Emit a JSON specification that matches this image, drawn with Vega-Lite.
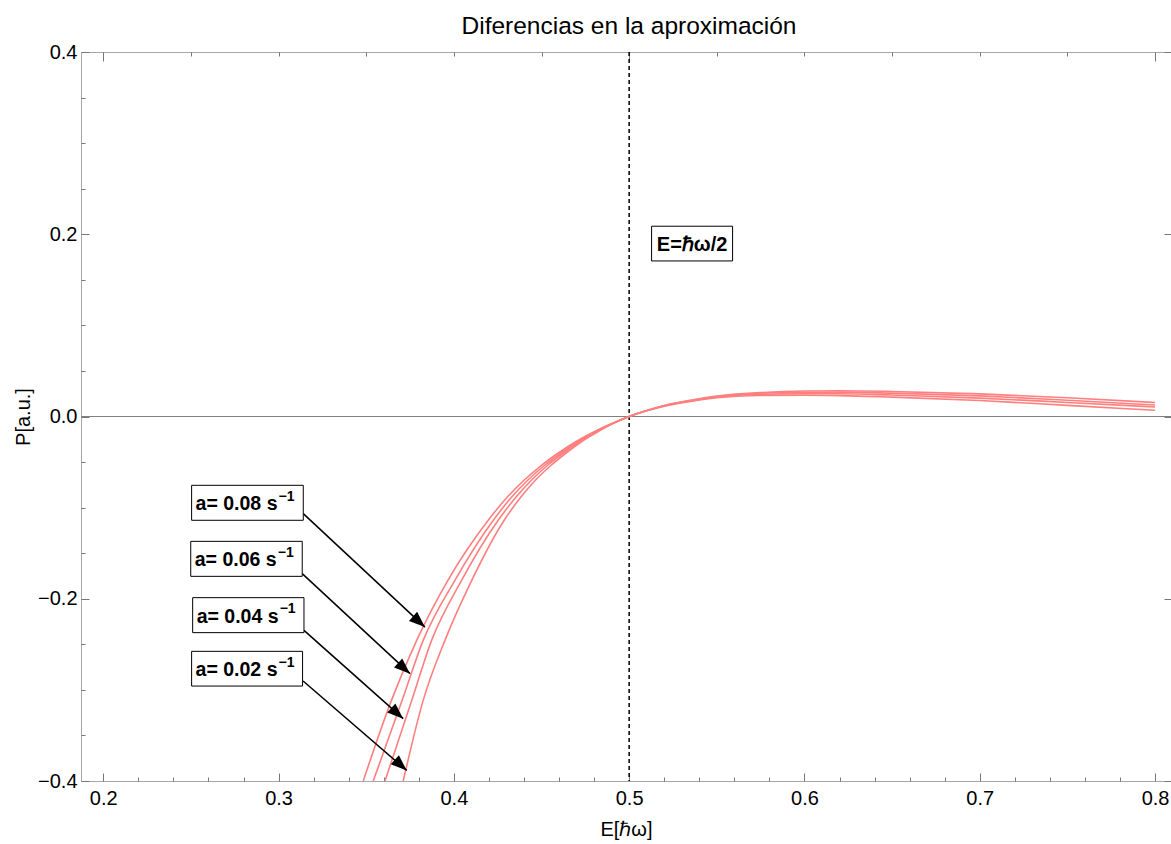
{
  "$schema": "https://vega.github.io/schema/vega-lite/v6.json",
  "width": 1090,
  "height": 729,
  "autosize": {"type": "none"},
  "padding": {"left": 81, "top": 52, "right": 0, "bottom": 63},
  "background": "white",
  "config": {
    "view": {"stroke": "#a6a6a6", "strokeWidth": 1},
    "font": "Liberation Sans",
    "axis": {"grid": false, "domain": false, "tickColor": "#777777", "labelColor": "black", "titleColor": "black", "labelFont": "Liberation Sans", "titleFont": "Liberation Sans", "labelFontSize": 20, "titleFontSize": 20, "titleFontWeight": "normal"}
  },
  "title": {"text": "Diferencias en la aproximación", "fontSize": 24.5, "fontWeight": "normal", "font": "Liberation Sans", "color": "black", "anchor": "middle", "offset": 3, "dx": 3},
  "datasets": {
    "curves": [
      {"a": "0.08", "E": 0.3483, "P": -0.4}, {"a": "0.08", "E": 0.3644, "P": -0.3115}, {"a": "0.08", "E": 0.3788, "P": -0.2457}, {"a": "0.08", "E": 0.3966, "P": -0.1798}, {"a": "0.08", "E": 0.4196, "P": -0.1139}, {"a": "0.08", "E": 0.43, "P": -0.0895}, {"a": "0.08", "E": 0.44, "P": -0.07}, {"a": "0.08", "E": 0.45, "P": -0.0535}, {"a": "0.08", "E": 0.46, "P": -0.0395}, {"a": "0.08", "E": 0.47, "P": -0.0272}, {"a": "0.08", "E": 0.48, "P": -0.0168}, {"a": "0.08", "E": 0.49, "P": -0.0078}, {"a": "0.08", "E": 0.5, "P": 0}, {"a": "0.08", "E": 0.51, "P": 0.0066}, {"a": "0.08", "E": 0.52, "P": 0.012}, {"a": "0.08", "E": 0.535, "P": 0.0178}, {"a": "0.08", "E": 0.55, "P": 0.0224}, {"a": "0.08", "E": 0.575, "P": 0.0262}, {"a": "0.08", "E": 0.6, "P": 0.028}, {"a": "0.08", "E": 0.62, "P": 0.0283}, {"a": "0.08", "E": 0.65, "P": 0.0275}, {"a": "0.08", "E": 0.7, "P": 0.0248}, {"a": "0.08", "E": 0.75, "P": 0.0205}, {"a": "0.08", "E": 0.8, "P": 0.0153},
      {"a": "0.06", "E": 0.354, "P": -0.4}, {"a": "0.06", "E": 0.3705, "P": -0.3115}, {"a": "0.06", "E": 0.3825, "P": -0.2457}, {"a": "0.06", "E": 0.4006, "P": -0.1798}, {"a": "0.06", "E": 0.4225, "P": -0.1139}, {"a": "0.06", "E": 0.4325, "P": -0.0895}, {"a": "0.06", "E": 0.4421, "P": -0.07}, {"a": "0.06", "E": 0.4518, "P": -0.0535}, {"a": "0.06", "E": 0.4615, "P": -0.0395}, {"a": "0.06", "E": 0.4712, "P": -0.0272}, {"a": "0.06", "E": 0.4808, "P": -0.0168}, {"a": "0.06", "E": 0.4904, "P": -0.0078}, {"a": "0.06", "E": 0.5, "P": 0}, {"a": "0.06", "E": 0.51, "P": 0.0065}, {"a": "0.06", "E": 0.52, "P": 0.0118}, {"a": "0.06", "E": 0.535, "P": 0.0175}, {"a": "0.06", "E": 0.55, "P": 0.0219}, {"a": "0.06", "E": 0.575, "P": 0.0254}, {"a": "0.06", "E": 0.6, "P": 0.0266}, {"a": "0.06", "E": 0.62, "P": 0.0267}, {"a": "0.06", "E": 0.65, "P": 0.0256}, {"a": "0.06", "E": 0.7, "P": 0.0226}, {"a": "0.06", "E": 0.75, "P": 0.0179}, {"a": "0.06", "E": 0.8, "P": 0.0126},
      {"a": "0.04", "E": 0.3607, "P": -0.4}, {"a": "0.04", "E": 0.376, "P": -0.3115}, {"a": "0.04", "E": 0.3873, "P": -0.2457}, {"a": "0.04", "E": 0.4044, "P": -0.1798}, {"a": "0.04", "E": 0.4253, "P": -0.1139}, {"a": "0.04", "E": 0.435, "P": -0.0895}, {"a": "0.04", "E": 0.4442, "P": -0.07}, {"a": "0.04", "E": 0.4535, "P": -0.0535}, {"a": "0.04", "E": 0.4628, "P": -0.0395}, {"a": "0.04", "E": 0.4721, "P": -0.0272}, {"a": "0.04", "E": 0.4814, "P": -0.0168}, {"a": "0.04", "E": 0.4906, "P": -0.0078}, {"a": "0.04", "E": 0.5, "P": 0}, {"a": "0.04", "E": 0.51, "P": 0.0064}, {"a": "0.04", "E": 0.52, "P": 0.0116}, {"a": "0.04", "E": 0.535, "P": 0.0171}, {"a": "0.04", "E": 0.55, "P": 0.0213}, {"a": "0.04", "E": 0.575, "P": 0.0244}, {"a": "0.04", "E": 0.6, "P": 0.0251}, {"a": "0.04", "E": 0.62, "P": 0.025}, {"a": "0.04", "E": 0.65, "P": 0.0236}, {"a": "0.04", "E": 0.7, "P": 0.0202}, {"a": "0.04", "E": 0.75, "P": 0.0154}, {"a": "0.04", "E": 0.8, "P": 0.0104},
      {"a": "0.02", "E": 0.3711, "P": -0.4}, {"a": "0.02", "E": 0.3825, "P": -0.3115}, {"a": "0.02", "E": 0.3949, "P": -0.2457}, {"a": "0.02", "E": 0.4102, "P": -0.1798}, {"a": "0.02", "E": 0.4287, "P": -0.1139}, {"a": "0.02", "E": 0.4378, "P": -0.0895}, {"a": "0.02", "E": 0.4465, "P": -0.07}, {"a": "0.02", "E": 0.4555, "P": -0.0535}, {"a": "0.02", "E": 0.4644, "P": -0.0395}, {"a": "0.02", "E": 0.4732, "P": -0.0272}, {"a": "0.02", "E": 0.4821, "P": -0.0168}, {"a": "0.02", "E": 0.4907, "P": -0.0078}, {"a": "0.02", "E": 0.5, "P": 0}, {"a": "0.02", "E": 0.51, "P": 0.0063}, {"a": "0.02", "E": 0.52, "P": 0.0113}, {"a": "0.02", "E": 0.535, "P": 0.0166}, {"a": "0.02", "E": 0.55, "P": 0.0205}, {"a": "0.02", "E": 0.575, "P": 0.023}, {"a": "0.02", "E": 0.6, "P": 0.0233}, {"a": "0.02", "E": 0.62, "P": 0.0229}, {"a": "0.02", "E": 0.65, "P": 0.0213}, {"a": "0.02", "E": 0.7, "P": 0.0175}, {"a": "0.02", "E": 0.75, "P": 0.0122}, {"a": "0.02", "E": 0.8, "P": 0.0068}
    ],
    "labels": [
      {"a": "0.08", "text": "a= 0.08 s", "x1": 0.2504, "x2": 0.3141, "ytop": -0.0755, "ybot": -0.1139, "ymid": -0.0947, "ax": 0.3141, "ay": -0.1066, "tx": 0.3835, "ty": -0.2311},
      {"a": "0.06", "text": "a= 0.06 s", "x1": 0.2499, "x2": 0.3135, "ytop": -0.137, "ybot": -0.1754, "ymid": -0.1562, "ax": 0.3135, "ay": -0.1724, "tx": 0.375, "ty": -0.2822},
      {"a": "0.04", "text": "a= 0.04 s", "x1": 0.251, "x2": 0.3145, "ytop": -0.1988, "ybot": -0.2372, "ymid": -0.218, "ax": 0.3145, "ay": -0.2347, "tx": 0.3711, "ty": -0.3316},
      {"a": "0.02", "text": "a= 0.02 s", "x1": 0.2504, "x2": 0.3137, "ytop": -0.2577, "ybot": -0.2958, "ymid": -0.2768, "ax": 0.314, "ay": -0.2903, "tx": 0.3731, "ty": -0.3884}
    ],
    "elabel": [
      {"text": "E=ℏω/2", "x1": 0.5128, "x2": 0.559, "ytop": 0.2088, "ybot": 0.1707, "xc": 0.5359, "ymid": 0.1898}
    ],
    "hline": [{"P": 0}],
    "vline": [{"E": 0.5}]
  },
  "resolve": {"axis": {"x": "independent", "y": "independent"}},
  "layer": [
    {
      "data": {"name": "hline"},
      "mark": {"type": "rule", "color": "#808080", "strokeWidth": 1},
      "encoding": {"y": {"field": "P", "type": "quantitative", "scale": {"domain": [-0.4, 0.4], "nice": false, "zero": false}, "axis": null}}
    },
    {
      "data": {"name": "vline"},
      "mark": {"type": "rule", "color": "black", "strokeWidth": 1.5, "strokeDash": [4, 3]},
      "encoding": {"x": {"field": "E", "type": "quantitative", "scale": {"domain": [0.1873, 0.8091], "nice": false, "zero": false}, "axis": null}}
    },
    {
      "data": {"name": "curves"},
      "mark": {"type": "line", "color": "#ff7f7f", "strokeWidth": 1.6, "interpolate": "monotone", "clip": true},
      "encoding": {
        "x": {"field": "E", "type": "quantitative", "scale": {"domain": [0.1873, 0.8091], "nice": false, "zero": false},
              "axis": {"orient": "bottom", "values": [0.2, 0.3, 0.4, 0.5, 0.6, 0.7, 0.8], "format": ".1f", "ticks": false, "labelPadding": 7, "title": "E[ℏω]", "titleX": 545, "titleY": 48, "titleBaseline": "middle", "titleAlign": "center"}},
        "y": {"field": "P", "type": "quantitative", "scale": {"domain": [-0.4, 0.4], "nice": false, "zero": false},
              "axis": {"orient": "left", "values": [-0.4, -0.2, 0, 0.2, 0.4], "format": ".1f", "ticks": false, "labelPadding": 4, "title": "P[a.u.]", "titleX": -58, "titleY": 364.5, "titleBaseline": "middle", "titleAlign": "center", "titleAngle": -90}},
        "detail": {"field": "a"}
      }
    },
    {
      "data": {"name": "labels"},
      "mark": {"type": "rule", "color": "black", "strokeWidth": 1.5},
      "encoding": {
        "x": {"field": "ax", "type": "quantitative", "scale": {"domain": [0.1873, 0.8091], "nice": false, "zero": false},
              "axis": {"orient": "bottom", "values": [0.2, 0.3, 0.4, 0.5, 0.6, 0.7, 0.8], "tickSize": -8, "labels": false, "title": null}},
        "y": {"field": "ay", "type": "quantitative", "scale": {"domain": [-0.4, 0.4], "nice": false, "zero": false},
              "axis": {"orient": "left", "values": [-0.4, -0.2, 0, 0.2, 0.4], "tickSize": -8, "labels": false, "title": null}},
        "x2": {"field": "tx"},
        "y2": {"field": "ty"}
      }
    },
    {
      "data": {"name": "labels"},
      "mark": {"type": "point", "shape": "M0,0L-0.38,1L0.38,1Z", "filled": true, "color": "black", "opacity": 1, "size": 1024, "angle": 132},
      "encoding": {
        "x": {"field": "tx", "type": "quantitative", "scale": {"domain": [0.1873, 0.8091], "nice": false, "zero": false},
              "axis": {"orient": "bottom", "values": [0.22, 0.24, 0.26, 0.28, 0.32, 0.34, 0.36, 0.38, 0.42, 0.44, 0.46, 0.48, 0.52, 0.54, 0.56, 0.58, 0.62, 0.64, 0.66, 0.68, 0.72, 0.74, 0.76, 0.78], "tickSize": -4, "labels": false, "title": null}},
        "y": {"field": "ty", "type": "quantitative", "scale": {"domain": [-0.4, 0.4], "nice": false, "zero": false},
              "axis": {"orient": "left", "values": [-0.35, -0.3, -0.25, -0.15, -0.1, -0.05, 0.05, 0.1, 0.15, 0.25, 0.3, 0.35], "tickSize": -4, "labels": false, "title": null}}
      }
    },
    {
      "data": {"name": "labels"},
      "mark": {"type": "rect", "fill": "white", "stroke": "black", "strokeWidth": 1},
      "encoding": {
        "x": {"field": "x1", "type": "quantitative", "scale": {"domain": [0.1873, 0.8091], "nice": false, "zero": false},
              "axis": {"orient": "top", "values": [0.25, 0.3, 0.35, 0.4, 0.45, 0.55, 0.6, 0.65, 0.7, 0.75], "tickSize": -4, "labels": false, "title": null}},
        "x2": {"field": "x2"},
        "y": {"field": "ytop", "type": "quantitative", "scale": {"domain": [-0.4, 0.4], "nice": false, "zero": false},
              "axis": {"orient": "right", "values": [-0.4, -0.2, 0, 0.2, 0.4], "tickSize": -7, "labels": false, "title": null}},
        "y2": {"field": "ybot"}
      }
    },
    {
      "data": {"name": "labels"},
      "mark": {"type": "text", "align": "left", "baseline": "middle", "dx": 4, "dy": 1.5, "fontSize": 19.5, "fontWeight": "bold", "font": "Liberation Sans", "color": "black"},
      "encoding": {
        "x": {"field": "x1", "type": "quantitative", "scale": {"domain": [0.1873, 0.8091], "nice": false, "zero": false},
              "axis": {"orient": "top", "values": [0.2, 0.5, 0.8], "tickSize": -9, "labels": false, "title": null}},
        "y": {"field": "ymid", "type": "quantitative", "scale": {"domain": [-0.4, 0.4], "nice": false, "zero": false}, "axis": null},
        "text": {"field": "text"}
      }
    },
    {
      "data": {"name": "labels"},
      "mark": {"type": "text", "align": "left", "baseline": "middle", "dx": 87, "dy": -6, "fontSize": 14, "fontWeight": "bold", "font": "Liberation Sans", "color": "black", "text": "−1"},
      "encoding": {
        "x": {"field": "x1", "type": "quantitative", "scale": {"domain": [0.1873, 0.8091], "nice": false, "zero": false}, "axis": null},
        "y": {"field": "ymid", "type": "quantitative", "scale": {"domain": [-0.4, 0.4], "nice": false, "zero": false}, "axis": null}
      }
    },
    {
      "data": {"name": "elabel"},
      "mark": {"type": "rect", "fill": "white", "stroke": "black", "strokeWidth": 1},
      "encoding": {
        "x": {"field": "x1", "type": "quantitative", "scale": {"domain": [0.1873, 0.8091], "nice": false, "zero": false}, "axis": null},
        "x2": {"field": "x2"},
        "y": {"field": "ytop", "type": "quantitative", "scale": {"domain": [-0.4, 0.4], "nice": false, "zero": false}, "axis": null},
        "y2": {"field": "ybot"}
      }
    },
    {
      "data": {"name": "elabel"},
      "mark": {"type": "text", "align": "center", "baseline": "middle", "dy": 1.5, "fontSize": 20, "fontWeight": "bold", "font": "Liberation Sans", "color": "black"},
      "encoding": {
        "x": {"field": "xc", "type": "quantitative", "scale": {"domain": [0.1873, 0.8091], "nice": false, "zero": false}, "axis": null},
        "y": {"field": "ymid", "type": "quantitative", "scale": {"domain": [-0.4, 0.4], "nice": false, "zero": false}, "axis": null},
        "text": {"field": "text"}
      }
    }
  ]
}
